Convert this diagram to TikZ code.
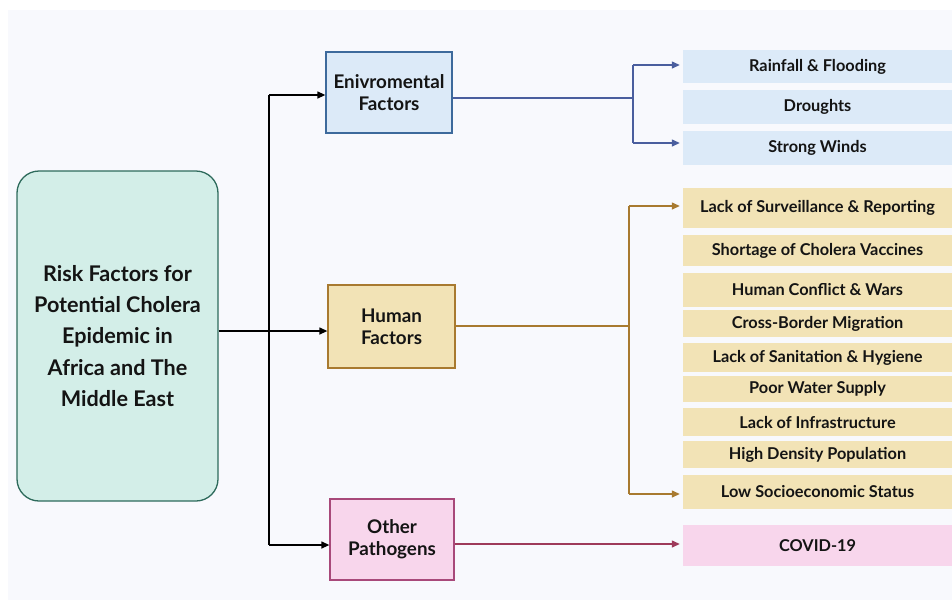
\documentclass[tikz,border=0pt]{standalone}
\usepackage{fontspec}
\setmainfont{Lato}
\usetikzlibrary{arrows.meta}
\definecolor{bgc}{HTML}{F8F9FD}
\definecolor{mainfill}{HTML}{D3EEE8}
\definecolor{mainline}{HTML}{2E6B5C}
\definecolor{envfill}{HTML}{DCEAF8}
\definecolor{envline}{HTML}{3D6A9C}
\definecolor{envconn}{HTML}{4A5E9E}
\definecolor{humfill}{HTML}{F2E3B6}
\definecolor{humline}{HTML}{A87A30}
\definecolor{othfill}{HTML}{F8D6EC}
\definecolor{othline}{HTML}{A8497A}
\definecolor{othconn}{HTML}{9E3A5A}
\definecolor{txt}{HTML}{141414}
\begin{document}
\begin{tikzpicture}[x=1pt,y=-1pt,
  cat/.style={draw, line width=1.3pt, align=center, text=txt,
    font=\bfseries\fontsize{18.8}{22}\selectfont, inner sep=0pt},
  leaf/.style={draw=none, align=center, text=txt, minimum width=269pt,
    font=\bfseries\fontsize{16.3}{19}\selectfont, inner sep=0pt},
  conn/.style={line width=1.3pt, -{Triangle[length=8pt,width=7pt]}},
  line/.style={line width=1.3pt}]
\useasboundingbox (0,0) rectangle (952,606);
\fill[white] (0,0) rectangle (952,606);
\fill[bgc] (8,10) rectangle (952,600);
% main
\node[draw=mainline, fill=mainfill, line width=1.3pt, rounded corners=22pt,
  minimum width=201pt, minimum height=330pt, inner sep=0pt, align=center, text=txt,
  font=\bfseries\fontsize{21.6}{31.3}\selectfont] (main) at (117.5,336)
  {Risk Factors for\\Potential Cholera\\Epidemic in\\Africa and The\\Middle East};
% categories
\node[cat, draw=envline, fill=envfill, minimum width=126pt, minimum height=81pt] (env) at (389,92.5) {Enivromental\\Factors};
\node[cat, draw=humline, fill=humfill, minimum width=127pt, minimum height=83pt] (hum) at (391.5,326.5) {Human\\Factors};
\node[cat, draw=othline, fill=othfill, minimum width=124pt, minimum height=81pt] (oth) at (392,539.5) {Other\\Pathogens};
% env leaves
\node[leaf, fill=envfill, minimum height=33pt] (rain) at (817.5,66.5) {Rainfall \& Flooding};
\node[leaf, fill=envfill, minimum height=34pt] (drought) at (817.5,107) {Droughts};
\node[leaf, fill=envfill, minimum height=34pt] (wind) at (817.5,148) {Strong Winds};
% human leaves
\node[leaf, fill=humfill, minimum height=40pt] (surv) at (817.5,208) {Lack of Surveillance \& Reporting};
\node[leaf, fill=humfill, minimum height=31pt] (vacc) at (817.5,250.5) {Shortage of Cholera Vaccines};
\node[leaf, fill=humfill, minimum height=34pt] (war) at (817.5,290) {Human Conflict \& Wars};
\node[leaf, fill=humfill, minimum height=27pt] (migr) at (817.5,323.5) {Cross-Border Migration};
\node[leaf, fill=humfill, minimum height=29pt] (sani) at (817.5,357.5) {Lack of Sanitation \& Hygiene};
\node[leaf, fill=humfill, minimum height=26pt] (water) at (817.5,389) {Poor Water Supply};
\node[leaf, fill=humfill, minimum height=28pt] (infra) at (817.5,422) {Lack of Infrastructure};
\node[leaf, fill=humfill, minimum height=27pt] (dens) at (817.5,454.5) {High Density Population};
\node[leaf, fill=humfill, minimum height=34pt] (low) at (817.5,492) {Low Socioeconomic Status};
% other leaf
\node[leaf, fill=othfill, minimum height=41pt] (covid) at (817.5,545.5) {COVID-19};
% trunk
\coordinate (ta) at (269,95);
\coordinate (tm) at (269,331);
\coordinate (tb) at (269,545);
\draw[line] (ta) -- (tb);
\draw[conn] (tm -| main.east) -- (tm -| hum.west);
\draw[conn] (ta) -- (ta -| env.west);
\draw[conn] (tb) -- (tb -| oth.west);
% env branch
\coordinate (ej) at (633,98);
\coordinate (ea) at (633,65);
\coordinate (eb) at (633,143);
\draw[line, envconn] (ej -| env.east) -- (ej);
\draw[line, envconn] (ea) -- (eb);
\draw[conn, envconn, shorten >=3pt] (ea) -- (ea -| rain.west);
\draw[conn, envconn, shorten >=3pt] (eb) -- (eb -| wind.west);
% human branch
\coordinate (hj) at (629,326);
\coordinate (ha) at (629,206);
\coordinate (hb) at (629,494);
\draw[line, humline] (hj -| hum.east) -- (hj);
\draw[line, humline] (ha) -- (hb);
\draw[conn, humline, shorten >=3pt] (ha) -- (ha -| surv.west);
\draw[conn, humline, shorten >=3pt] (hb) -- (hb -| low.west);
% other branch
\coordinate (oj) at (500,544);
\draw[conn, othconn, shorten >=3pt] (oj -| oth.east) -- (oj -| covid.west);
\end{tikzpicture}
\end{document}
